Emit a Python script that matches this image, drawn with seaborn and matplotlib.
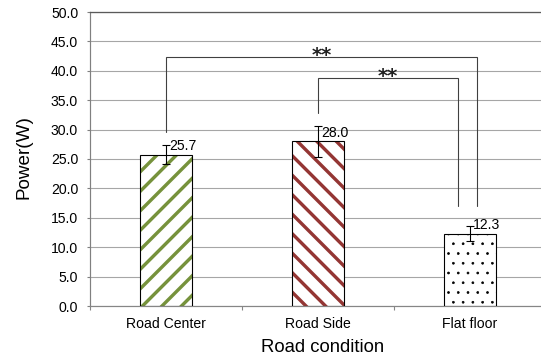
import numpy as np
import matplotlib
matplotlib.use("Agg")
import matplotlib.pyplot as plt
from matplotlib.ticker import FixedLocator, MultipleLocator, FormatStrFormatter
import seaborn as sns

# ---- data ----
conditions = ["Road Center", "Road Side", "Flat floor"]
power = [25.7, 28.0, 12.3]
power_err = [1.6, 2.6, 1.25]
value_labels = ["25.7", "28.0", "12.3"]
hatches = ["//", "\\\\", ".."]
hatch_colors = ["#76923C", "#943634", "#000000"]
significance = ["**", "**"]

DPI = 117
P = 72 / DPI  # one pixel in points

sns.set_theme(style="white")
plt.rcParams["font.family"] = ["Liberation Sans", "DejaVu Sans"]
plt.rcParams["hatch.linewidth"] = 3.4 * P

fig = plt.figure(figsize=(541 / DPI, 356 / DPI), dpi=DPI)
fig.patch.set_facecolor("white")
ax = fig.add_axes([90 / 541, 50 / 356, 456 / 541, 294 / 356])
ax.set_facecolor("white")

# hatched bar bodies
sns.barplot(x=conditions, y=power, color="white", saturation=1, width=0.336,
            errorbar=None, ax=ax, zorder=2)
for patch, h, c in zip(ax.patches, hatches, hatch_colors):
    patch.set_hatch(h)
    patch.set_edgecolor(c)
    patch.set_linewidth(0)
    if h == ".." and hasattr(patch, "set_hatch_linewidth"):
        patch.set_hatch_linewidth(0.7 * P)

# black outlines
sns.barplot(x=conditions, y=power, fill=False, color="black", width=0.336,
            linewidth=1.1 * P, errorbar=None, ax=ax, zorder=3)

x = np.arange(len(conditions))
ax.errorbar(x, power, yerr=power_err, fmt="none", ecolor="black",
            elinewidth=1.1 * P, capsize=4 * P, capthick=1.1 * P, zorder=4)

for xi, v, lab in zip(x, power, value_labels):
    ax.annotate(lab, xy=(xi, v), xytext=(3 * P, 8.5 * P), textcoords="offset points",
                ha="left", va="center", fontsize=8.6, color="black", zorder=5)

# significance brackets: (left x, left foot, right x, right foot, top)
brackets = [
    (0.0, 29.65, 2.044, 17.0, 42.4),
    (1.0, 32.8, 1.923, 17.0, 38.7),
]
for (xl, yl, xr, yr, top), mark in zip(brackets, significance):
    ax.plot([xl, xl, xr, xr], [yl, top, top, yr], color="#404040",
            lw=1.1 * P, zorder=5, solid_joinstyle="miter")
    ax.annotate(mark, xy=((xl + xr) / 2, top), xytext=(0, -4 * P),
                textcoords="offset points", ha="center", va="baseline",
                fontsize=12, fontweight="bold", family="DejaVu Sans",
                color="#202020", zorder=5)

# axes styling
ax.set_xlim(-0.5, 2.5)
ax.set_ylim(0, 50)
ax.yaxis.set_major_locator(MultipleLocator(5))
ax.yaxis.set_major_formatter(FormatStrFormatter("%.1f"))
ax.set_axisbelow(True)
ax.grid(axis="y", color="#A6A6A6", lw=1.1 * P)
ax.grid(axis="x", visible=False)

ax.spines["right"].set_visible(False)
ax.spines["top"].set_color("#5A5A5A")
ax.spines["top"].set_linewidth(1.3 * P)
ax.spines["left"].set_color("#808080")
ax.spines["left"].set_linewidth(1.2 * P)
ax.spines["bottom"].set_color("#868686")
ax.spines["bottom"].set_linewidth(1.2 * P)

ax.xaxis.set_minor_locator(FixedLocator([-0.5, 0.5, 1.5, 2.5]))
ax.tick_params(axis="x", which="major", length=0, pad=6.5, labelsize=8.6,
               labelcolor="black")
ax.tick_params(axis="x", which="minor", length=4 * P, width=1.1 * P,
               color="#868686", direction="out", bottom=True)
ax.tick_params(axis="y", which="major", length=3 * P, width=1.1 * P,
               color="#808080", direction="out", left=True, pad=5.5,
               labelsize=8.6, labelcolor="black")

ax.set_xlabel("Road condition", fontsize=11.4, color="black")
ax.set_ylabel("Power(W)", fontsize=11.6, color="black")
ax.xaxis.set_label_coords((323 - 90) / 456, -41 / 294)
ax.xaxis.label.set_va("center")
ax.yaxis.set_label_coords((23.7 - 90) / 456, 0.508)
ax.yaxis.label.set_va("center")

fig.savefig("out.png", dpi=DPI, facecolor="white")
